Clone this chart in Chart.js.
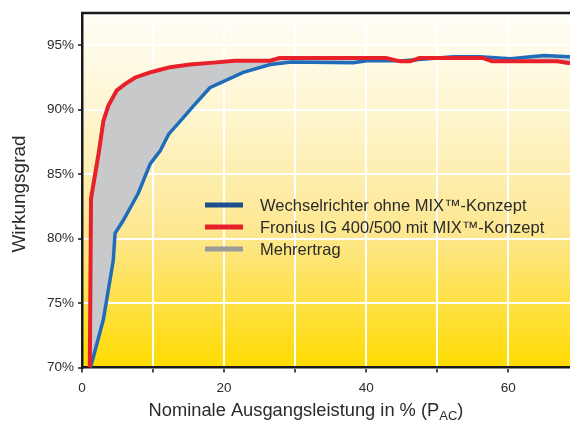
<!DOCTYPE html>
<html>
<head>
<meta charset="utf-8">
<script src="https://cdn.jsdelivr.net/npm/chart.js@4/dist/chart.umd.min.js"></script>
<style>
  html, body { margin: 0; padding: 0; background: #fff; }
  #wrap { width: 570px; height: 421px; }
</style>
</head>
<body>
<div id="wrap"><canvas id="effChart" width="570" height="421"></canvas></div>
<script>
'use strict';

// Wechselrichter ohne MIX-Konzept (blue)
const blueX = [1.2, 3.0, 4.4, 4.65, 5.8, 7.9, 9.6, 11.0, 12.2, 13.8, 15.7, 18.0, 22.7, 26.5, 29.5, 38.2, 40.1, 45.2, 52.3, 56.0, 60.3, 65.0, 68.7];
const blueY = [70, 73.7, 78.3, 80.4, 81.4, 83.5, 85.8, 86.8, 88.1, 89.1, 90.3, 91.7, 92.9, 93.5, 93.7, 93.65, 93.8, 93.8, 94.1, 94.1, 93.95, 94.2, 94.1];

// Fronius IG 400/500 mit MIX-Konzept (red)
const redX = [1.1, 1.27, 2.4, 3.0, 3.7, 4.9, 6.1, 7.5, 9.6, 11.0, 12.4, 15.2, 18.5, 21.5, 26.5, 27.8, 42.8, 44.8, 46.2, 47.5, 56.5, 57.7, 66.9, 68.7];
const redY = [70, 83.1, 86.8, 89.1, 90.3, 91.5, 92.0, 92.5, 92.9, 93.1, 93.3, 93.5, 93.65, 93.8, 93.8, 94.0, 94.0, 93.75, 93.75, 94.0, 94.0, 93.75, 93.75, 93.6];

const xTicks = [0, 10, 20, 30, 40, 50, 60];
const xLabels = ['0', '', '20', '', '40', '', '60'];
const yTicks = [70, 75, 80, 85, 90, 95];

const legendItems = [
  { text: 'Wechselrichter ohne MIX™-Konzept', color: '#1b4f8c' },
  { text: 'Fronius IG 400/500 mit MIX™-Konzept', color: '#e8202a' },
  { text: 'Mehrertrag', color: '#9a9a9a' },
];

const FONT = '"Liberation Sans", Arial, sans-serif';
const toPoints = (xs, ys) => xs.map((x, i) => ({ x: x, y: ys[i] }));

const decor = {
  id: 'decor',
  beforeDraw(chart) {
    const { ctx, chartArea: a } = chart;
    const g = ctx.createLinearGradient(0, a.top, 0, a.bottom);
    g.addColorStop(0, '#fffef8');
    g.addColorStop(0.3, '#fef5cc');
    g.addColorStop(0.62, '#fde790');
    g.addColorStop(1, '#ffdb00');
    ctx.save();
    ctx.fillStyle = g;
    ctx.fillRect(a.left, a.top, a.right - a.left, a.bottom - a.top);
    ctx.restore();
  },
  afterDraw(chart) {
    const { ctx, chartArea: a } = chart;
    ctx.save();
    // top frame line
    ctx.strokeStyle = '#1a1a1a';
    ctx.lineWidth = 2.5;
    ctx.beginPath();
    ctx.moveTo(a.left - 1, a.top);
    ctx.lineTo(a.right, a.top);
    ctx.stroke();

    // legend
    ctx.font = '16.5px ' + FONT;
    ctx.textBaseline = 'middle';
    legendItems.forEach((item, i) => {
      const y = 205 + i * 22;
      ctx.strokeStyle = item.color;
      ctx.lineWidth = 5;
      ctx.beginPath();
      ctx.moveTo(205, y);
      ctx.lineTo(243, y);
      ctx.stroke();
      ctx.fillStyle = '#2a2a2a';
      ctx.fillText(item.text, 260, y + 1);
    });

    // y title
    ctx.fillStyle = '#2a2a2a';
    ctx.font = '19px ' + FONT;
    ctx.save();
    ctx.translate(20, 194);
    ctx.rotate(-Math.PI / 2);
    ctx.textAlign = 'center';
    ctx.textBaseline = 'middle';
    ctx.fillText('Wirkungsgrad', 0, 0);
    ctx.restore();

    // x title with subscript
    const main = 'Nominale Ausgangsleistung in % (P';
    const sub = 'AC';
    const end = ')';
    ctx.textBaseline = 'alphabetic';
    ctx.font = '18.3px ' + FONT;
    const w1 = ctx.measureText(main).width;
    const w3 = ctx.measureText(end).width;
    ctx.font = '13px ' + FONT;
    const w2 = ctx.measureText(sub).width;
    let x = 306 - (w1 + w2 + w3) / 2;
    const base = 415.5;
    ctx.font = '18.3px ' + FONT;
    ctx.fillText(main, x, base);
    x += w1;
    ctx.font = '13px ' + FONT;
    ctx.fillText(sub, x, base + 4);
    x += w2;
    ctx.font = '18.3px ' + FONT;
    ctx.fillText(end, x, base);
    ctx.restore();
  },
};

const chart = new Chart(document.getElementById('effChart'), {
  type: 'line',
  data: {
    datasets: [
      {
        label: 'Fronius IG 400/500 mit MIX™-Konzept',
        data: toPoints(redX, redY),
        borderColor: '#e8202a',
        borderWidth: 4,
        backgroundColor: '#c8c9cb',
        fill: 1,
        pointRadius: 0,
        tension: 0,
      },
      {
        label: 'Wechselrichter ohne MIX™-Konzept',
        data: toPoints(blueX, blueY),
        borderColor: '#1f6dba',
        borderWidth: 3.5,
        fill: false,
        pointRadius: 0,
        tension: 0,
      },
    ],
  },
  options: {
    responsive: false,
    animation: false,
    layout: { padding: { top: 13, right: 0, left: 0, bottom: 0 } },
    plugins: {
      legend: { display: false },
      tooltip: { enabled: false },
      filler: { drawTime: 'beforeDatasetsDraw' },
    },
    scales: {
      x: {
        type: 'linear',
        min: 0,
        max: 68.7,
        afterBuildTicks: (s) => { s.ticks = xTicks.map((v) => ({ value: v })); },
        afterFit: (s) => { s.height = 53.5; },
        grid: { color: '#ffffff', lineWidth: 2, tickColor: '#1a1a1a', tickLength: 5, tickWidth: 1.5 },
        border: { display: true, color: '#1a1a1a', width: 2.5 },
        ticks: {
          color: '#2a2a2a',
          font: { family: FONT, size: 13.5 },
          padding: 8,
          maxRotation: 0,
          autoSkip: false,
          callback: (v, i) => xLabels[i],
        },
      },
      y: {
        min: 70,
        max: 97.5,
        afterBuildTicks: (s) => { s.ticks = yTicks.map((v) => ({ value: v })); },
        afterFit: (s) => { s.width = 82; },
        grid: { color: '#ffffff', lineWidth: 2, tickColor: '#1a1a1a', tickLength: 4, tickWidth: 1.5 },
        border: { display: true, color: '#1a1a1a', width: 2.5 },
        ticks: {
          color: '#2a2a2a',
          font: { family: FONT, size: 13.5 },
          padding: 4,
          callback: (v) => v + '%',
        },
      },
    },
  },
  plugins: [decor],
});
</script>
</body>
</html>
